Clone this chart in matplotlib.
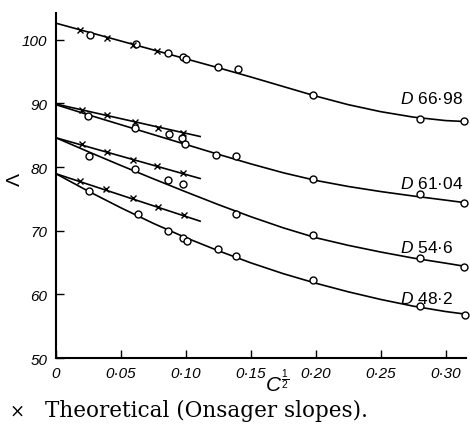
import numpy as np
import matplotlib
matplotlib.use("Agg")
import matplotlib.pyplot as plt

plt.rcParams["font.family"] = ["Liberation Sans", "DejaVu Sans"]
plt.rcParams["mathtext.fontset"] = "custom"
plt.rcParams["mathtext.it"] = "Liberation Sans:italic"
plt.rcParams["mathtext.rm"] = "Liberation Sans"

# --- smooth curves ---
curve_x = [0, 0.025, 0.05, 0.075, 0.10, 0.125, 0.15, 0.175, 0.20, 0.225, 0.25, 0.275, 0.30, 0.315]
curve_6698 = [102.6, 101.2, 99.8, 98.4, 97.0, 95.6, 94.15, 92.65, 91.15, 89.8, 88.7, 87.85, 87.3, 87.15]
curve_6104 = [89.8, 88.2, 86.65, 85.1, 83.55, 82.0, 80.5, 79.1, 77.9, 76.95, 76.15, 75.45, 74.8, 74.4]
curve_546 = [84.6, 82.4, 80.25, 78.15, 76.1, 74.1, 72.2, 70.45, 68.9, 67.7, 66.65, 65.7, 64.9, 64.4]
curve_482 = [78.95, 76.2, 73.6, 71.15, 68.9, 66.85, 64.95, 63.25, 61.75, 60.4, 59.2, 58.15, 57.3, 56.9]

# --- measured points (circles) ---
obs_6698_x = [0.026, 0.0615, 0.0864, 0.0975, 0.1005, 0.125, 0.14, 0.198, 0.28, 0.314]
obs_6698_y = [100.8, 99.3, 97.9, 97.3, 97.0, 95.7, 95.4, 91.3, 87.5, 87.3]
obs_6104_x = [0.025, 0.061, 0.087, 0.097, 0.099, 0.123, 0.139, 0.198, 0.28, 0.314]
obs_6104_y = [88.0, 86.2, 85.2, 84.5, 83.6, 81.9, 81.7, 78.1, 75.7, 74.3]
obs_546_x = [0.0256, 0.061, 0.0864, 0.098, 0.139, 0.198, 0.28, 0.314]
obs_546_y = [81.8, 79.7, 78.0, 77.4, 72.6, 69.3, 65.7, 64.3]
obs_482_x = [0.0256, 0.063, 0.0864, 0.098, 0.101, 0.125, 0.139, 0.198, 0.28, 0.315]
obs_482_y = [76.2, 72.7, 70.0, 68.9, 68.4, 67.1, 66.0, 62.3, 58.1, 56.8]

# --- theoretical (Onsager) crosses and their straight lines ---
theo_6698_x = [0.0185, 0.039, 0.0595, 0.078]
theo_6698_y = [101.6, 100.3, 99.1, 98.2]
theo_6104_x = [0.0198, 0.039, 0.061, 0.0787, 0.098]
theo_6104_y = [89.0, 88.1, 87.1, 86.2, 85.3]
theo_546_x = [0.0198, 0.039, 0.059, 0.0775, 0.098]
theo_546_y = [83.6, 82.3, 81.1, 80.2, 79.0]
theo_482_x = [0.0185, 0.0385, 0.059, 0.0787, 0.0987]
theo_482_y = [77.85, 76.6, 75.2, 73.8, 72.5]
theo_line_x = [0, 0.111]
theo_line_6104 = [89.9, 84.8]
theo_line_546 = [84.6, 78.2]
theo_line_482 = [78.95, 71.5]

labels = ["66·98", "61·04", "54·6", "48·2"]
label_y = [90.9, 77.5, 67.5, 59.5]

xticks = [0, 0.05, 0.10, 0.15, 0.20, 0.25, 0.30]
xticklabels = ["0", "0·05", "0·10", "0·15", "0·20", "0·25", "0·30"]
yticks = [50, 60, 70, 80, 90, 100]

fig = plt.figure(figsize=(4.7, 4.35), dpi=100)
ax = fig.add_axes([0.119, 0.1747, 0.872, 0.7931])

lw = 1.2
for cy in (curve_6698, curve_6104, curve_546, curve_482):
    ax.plot(curve_x, cy, color="black", lw=lw, clip_on=False)
for ty in (theo_line_6104, theo_line_546, theo_line_482):
    ax.plot(theo_line_x, ty, color="black", lw=lw)

for ox, oy in ((obs_6698_x, obs_6698_y), (obs_6104_x, obs_6104_y),
               (obs_546_x, obs_546_y), (obs_482_x, obs_482_y)):
    ax.plot(ox, oy, "o", ms=5, mfc="white", mec="black", mew=1.0, clip_on=False, zorder=3)
for tx, ty in ((theo_6698_x, theo_6698_y), (theo_6104_x, theo_6104_y),
               (theo_546_x, theo_546_y), (theo_482_x, theo_482_y)):
    ax.plot(tx, ty, "x", ms=4, color="black", mew=1.0, zorder=4)

for lab, ly in zip(labels, label_y):
    ax.text(0.2646, ly, r"$D$ " + lab, fontsize=12.5, ha="left", va="center")

ax.set_xlim(0, 0.3155)
ax.set_ylim(50, 104.2)
ax.spines["top"].set_visible(False)
ax.spines["right"].set_visible(False)
for s in ("left", "bottom"):
    ax.spines[s].set_linewidth(1.5)
ax.set_xticks(xticks)
ax.set_xticklabels(xticklabels, fontstyle="italic", fontsize=11)
ax.set_yticks(yticks)
ax.set_yticklabels([str(v) for v in yticks], fontstyle="italic", fontsize=11)
ax.tick_params(direction="in", length=6, width=1.0, pad=6)

fig.text(277 / 470, 1 - 382 / 435, r"$C^{\frac{1}{2}}$", fontsize=15, ha="center", va="center")
fig.text(15 / 470, 1 - 180 / 435, "Λ", fontsize=14, rotation=90, ha="center", va="center")

fig.text(17 / 470, 1 - 417 / 435, "×", fontsize=13, family="DejaVu Serif",
         ha="center", va="baseline")
fig.text(45 / 470, 1 - 417 / 435, "Theoretical (Onsager slopes).", fontsize=15.5,
         family="DejaVu Serif", ha="left", va="baseline")

fig.savefig("out.png", dpi=100)
